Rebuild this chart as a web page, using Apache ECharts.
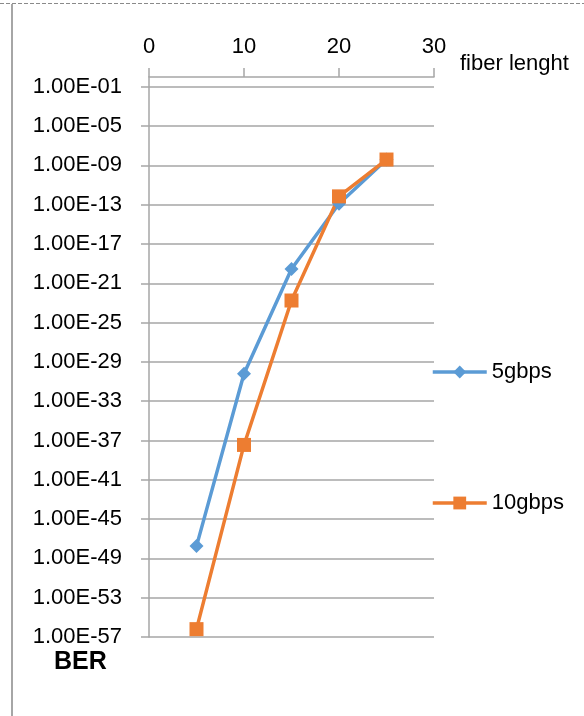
<!DOCTYPE html>
<html>
<head>
<meta charset="utf-8">
<script src="https://cdn.jsdelivr.net/npm/echarts@6/dist/echarts.min.js"></script>
<style>
html,body{margin:0;padding:0;background:#fff;}
#chart{width:584px;height:716px;}
</style>
</head>
<body>
<div id="chart"></div>
<script>
// ---- data ----
const fiberLength = [5, 10, 15, 20, 25];
// BER values stored as log10(BER)
const ber5gbpsLog10  = [-47.75, -30.2, -19.55, -12.9, -8.4];
const ber10gbpsLog10 = [-56.2, -37.45, -22.75, -12.15, -8.4];
const seriesNames = ['5gbps', '10gbps'];
const xTicks = [0, 10, 20, 30];
const yTickExponents = [-57, -53, -49, -45, -41, -37, -33, -29, -25, -21, -17, -13, -9, -5, -1];
const yTickLabels = ['1.00E-57','1.00E-53','1.00E-49','1.00E-45','1.00E-41','1.00E-37','1.00E-33','1.00E-29','1.00E-25','1.00E-21','1.00E-17','1.00E-13','1.00E-09','1.00E-05','1.00E-01'];
const yMinExp = -57;
const yMaxExp = 0;
const xTitle = 'fiber lenght';
const yTitle = 'BER';

// ---- chart ----
const FONT = '"Liberation Sans", Arial, sans-serif';
const GRID_COLOR = '#a6a6a6';
const shift = v => v - yMinExp;
const labelMap = {};
yTickExponents.forEach((e, i) => { labelMap[shift(e)] = yTickLabels[i]; });

const chart = echarts.init(document.getElementById('chart'), null, {renderer: 'canvas'});
chart.setOption({
  backgroundColor: '#ffffff',
  animation: false,
  textStyle: {fontFamily: FONT},
  grid: {left: 149, right: 150, top: 77, bottom: 79, containLabel: false, outerBoundsMode: 'none'},
  xAxis: {
    type: 'value', position: 'top',
    min: xTicks[0], max: xTicks[xTicks.length - 1], interval: 10,
    axisLine: {show: true, onZero: false, lineStyle: {color: GRID_COLOR, width: 1.5}},
    axisTick: {show: true, inside: false, length: 9, lineStyle: {color: GRID_COLOR, width: 1.5}},
    splitLine: {show: false},
    axisLabel: {color: '#000', fontSize: 22, fontFamily: FONT, margin: 19}
  },
  yAxis: {
    type: 'value',
    min: 0, max: shift(yMaxExp), interval: 4,
    axisLine: {show: true, onZero: false, lineStyle: {color: GRID_COLOR, width: 1.5}},
    axisTick: {show: true, inside: false, length: 8, lineStyle: {color: GRID_COLOR, width: 1.5},
               customValues: yTickExponents.map(shift)},
    splitLine: {show: true, lineStyle: {color: GRID_COLOR, width: 1.5}},
    axisLabel: {color: '#000', fontSize: 22, fontFamily: FONT, margin: 27,
                customValues: yTickExponents.map(shift),
                formatter: v => labelMap[v] !== undefined ? labelMap[v] : ''}
  },
  legend: [
    {data: [seriesNames[0]], orient: 'vertical', left: 431, top: 361, padding: 0, itemWidth: 54, itemHeight: 16,
     lineStyle: {width: 3.5}, textStyle: {color: '#000', fontSize: 22, fontFamily: FONT}},
    {data: [seriesNames[1]], orient: 'vertical', left: 431, top: 492, padding: 0, itemWidth: 54, itemHeight: 16,
     lineStyle: {width: 3.5}, textStyle: {color: '#000', fontSize: 22, fontFamily: FONT}}
  ],
  series: [
    {
      name: seriesNames[0], type: 'line',
      data: fiberLength.map((x, i) => [x, shift(ber5gbpsLog10[i])]),
      symbol: 'diamond', symbolSize: 14,
      lineStyle: {color: '#5b9bd5', width: 3.5},
      itemStyle: {color: '#5b9bd5'}
    },
    {
      name: seriesNames[1], type: 'line',
      data: fiberLength.map((x, i) => [x, shift(ber10gbpsLog10[i])]),
      symbol: 'rect', symbolSize: 14,
      lineStyle: {color: '#ed7d31', width: 3.5},
      itemStyle: {color: '#ed7d31'}
    }
  ],
  graphic: [
    {type: 'line', shape: {x1: 0, y1: 3.5, x2: 584, y2: 3.5}, style: {stroke: '#8a8a8a', lineWidth: 1, lineDash: [4, 2]}, silent: true},
    {type: 'line', shape: {x1: 12, y1: 4, x2: 12, y2: 716}, style: {stroke: '#a6a6a6', lineWidth: 2}, silent: true},
    {type: 'text', left: 460, top: 53, style: {text: xTitle, fill: '#000', font: '22px ' + FONT}, silent: true},
    {type: 'text', left: 54, top: 650, style: {text: yTitle, fill: '#000', font: 'bold 25px ' + FONT}, silent: true}
  ]
});
</script>
</body>
</html>
